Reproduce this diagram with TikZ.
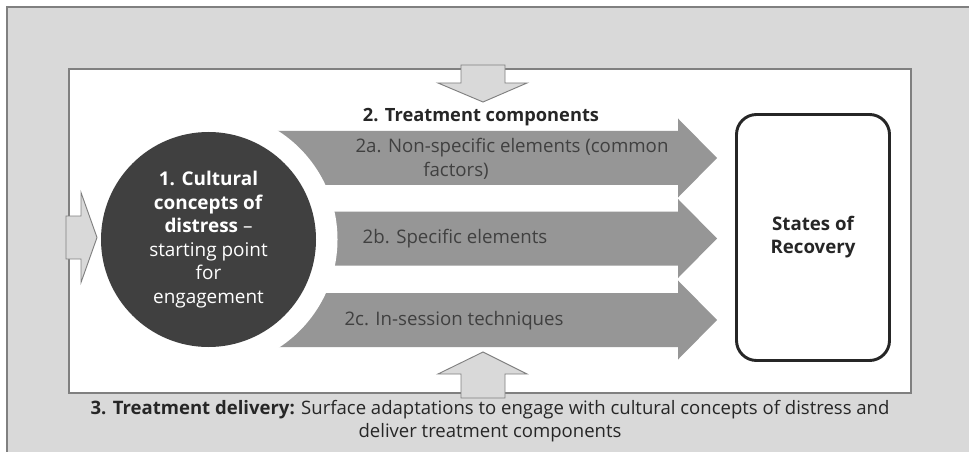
\documentclass[tikz,border=0pt]{standalone}
\usepackage{fontspec}
\setmainfont{Open Sans}
\definecolor{bggray}{HTML}{D9D9D9}
\definecolor{framegray}{HTML}{808080}
\definecolor{armgray}{HTML}{969696}
\definecolor{circgray}{HTML}{404040}
\definecolor{txtgray}{HTML}{404040}
\definecolor{darkgray}{HTML}{262626}
\begin{document}
\begin{tikzpicture}[x=0.75pt,y=-0.75pt,
  outerframe/.style={draw=framegray,line width=1.1pt},
  innerframe/.style={draw=framegray,fill=white,line width=0.8pt},
  armshape/.style={fill=armgray,draw=none},
  hollowarrow/.style={fill=bggray,draw=framegray,line width=0.7pt},
  armtext/.style={text=txtgray,inner sep=0pt,font=\fontsize{14}{16}\selectfont},
  boldtext/.style={text=darkgray,inner sep=0pt,font=\bfseries\fontsize{13.7}{16}\selectfont}]
\useasboundingbox (0,0) rectangle (969,452);
\fill[white] (0,0) rectangle (969,452);
% outer grey panel
\fill[bggray] (7,7) rectangle (980,470);
\draw[outerframe] (7,470) -- (7,7) -- (980,7);
% inner white panel
\draw[innerframe] (69,69) rectangle (911,393);
% treatment component arrows
\fill[armshape] (270,131) -- (678,131) -- (678,118.5) -- (717,158) -- (678,197.5) -- (678,185) -- (270,185) -- cycle;
\fill[armshape] (270,211.5) -- (678,211.5) -- (678,199) -- (717,238.5) -- (678,278) -- (678,265.5) -- (270,265.5) -- cycle;
\fill[armshape] (270,293) -- (678,293) -- (678,280.5) -- (717,320) -- (678,359.5) -- (678,347) -- (270,347) -- cycle;
% white gap around circle
\fill[white] (208.5,239.5) circle[radius=129];
% central circle
\node[circle,fill=circgray,minimum size=161.25pt,inner sep=0pt,text=white,align=center,
  font=\fontsize{14.2}{17.6}\selectfont] (c1) at (208.5,239.5)
  {\textbf{1. Cultural}\\\textbf{concepts of}\\\textbf{distress} –\\starting point\\for\\engagement};
% side arrows
\draw[hollowarrow] (66,216) -- (81,216) -- (81,192.5) -- (97,237.5) -- (81,282.5) -- (81,259) -- (66,259) -- cycle;
\draw[hollowarrow] (461,65) -- (505,65) -- (505,83) -- (527,83) -- (483,102) -- (438,83) -- (461,83) -- cycle;
\draw[hollowarrow] (461,398) -- (505,398) -- (505,374) -- (527,374) -- (483,352) -- (438,374) -- (461,374) -- cycle;
% states of recovery
\node[draw=darkgray,line width=2.2pt,rounded corners=15pt,fill=white,minimum width=114.75pt,
  minimum height=184.5pt,align=center,text=darkgray,font=\bfseries\fontsize{14}{17.3}\selectfont]
  (rec) at (813,237.5) {States of\\Recovery};
% labels
\node[boldtext] (t2) at (481,117) {2. Treatment components};
\node[armtext] (t2a1) at (512,148) {2a. Non-specific elements (common};
\node[armtext] (t2a2) at (456,171) {factors)};
\node[armtext] (t2b) at (455,238.5) {2b. Specific elements};
\node[armtext] (t2c) at (454,321) {2c. In-session techniques};
\node[text=darkgray,align=center,inner sep=0pt,font=\fontsize{13.9}{17.3}\selectfont] (t3) at (490,421.5)
  {\textbf{3. Treatment delivery:} Surface adaptations to engage with cultural concepts of distress and\\deliver treatment components};
\end{tikzpicture}
\end{document}
